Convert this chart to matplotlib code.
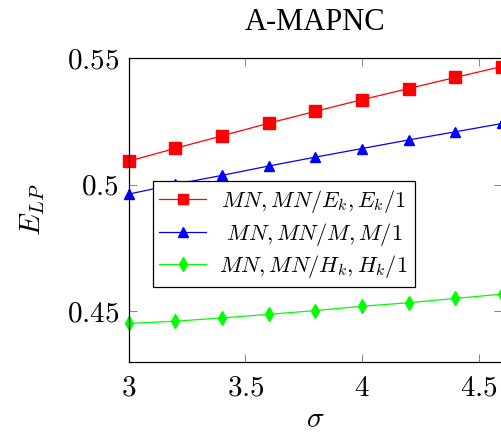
import numpy as np
import matplotlib
matplotlib.use('Agg')
import matplotlib.pyplot as plt
import matplotlib as mpl

mpl.rcParams['mathtext.fontset'] = 'cm'
mpl.rcParams['font.family'] = 'Liberation Serif'

sigma = [3.0, 3.2, 3.4, 3.6, 3.8, 4.0, 4.2, 4.4, 4.6]
e_k = [0.5093, 0.5144, 0.5193, 0.5243, 0.5290, 0.5336, 0.5380, 0.5424, 0.5467]
m_1 = [0.4963, 0.5002, 0.5037, 0.5074, 0.5109, 0.5143, 0.5177, 0.5209, 0.5242]
h_k = [0.4452, 0.4461, 0.4474, 0.4488, 0.4503, 0.4520, 0.4534, 0.4551, 0.4568]

labels = [r'$\hspace{0.12}MN, MN/E_k, E_k/1$',
          r'$\hspace{0.4}MN, MN/M, M/1$',
          r'$MN, MN/H_k, H_k/1$']
xticks = [3, 3.5, 4, 4.5]
yticks = [0.45, 0.5, 0.55]

fig = plt.figure(figsize=(5.01, 4.34), dpi=100)
ax = fig.add_axes([0.257, 0.166, 0.745, 0.700])

ax.plot(sigma, e_k, '-s', color='red', lw=0.9, ms=8, label=labels[0], clip_on=False)
ax.plot(sigma, m_1, '-^', color='blue', lw=0.9, ms=7.5, label=labels[1], clip_on=False)
ax.plot(sigma, h_k, '-d', color='#00ff00', lw=0.9, ms=7.5, label=labels[2], clip_on=False)

ax.set_xlim(3, 4.6)
ax.set_ylim(0.43, 0.55)
ax.set_xticks(xticks)
ax.set_yticks(yticks)
fmt = mpl.ticker.FuncFormatter(lambda v, p: '$%g$' % v)
ax.xaxis.set_major_formatter(fmt)
ax.yaxis.set_major_formatter(fmt)
ax.tick_params(direction='in', length=6, width=0.6, color='0.45',
               top=True, right=True, labelsize=21)
ax.tick_params(axis='x', pad=10)
ax.tick_params(axis='y', pad=7)
for s in ax.spines.values():
    s.set_linewidth(0.9)

ax.set_xlabel(r'$\sigma$', fontsize=21, labelpad=4)
ax.set_ylabel(r'$E_{LP}$', fontsize=21, labelpad=14)
ax.set_title('A-MAPNC', fontsize=22, pad=20)

leg = ax.legend(loc='upper left', bbox_to_anchor=(0.0645, 0.594), borderaxespad=0,
                fontsize=16, fancybox=False, edgecolor='black', framealpha=1,
                handlelength=2.1, handletextpad=0.6, labelspacing=0.25,
                borderpad=0.3, markerscale=0.9)
leg.get_frame().set_linewidth(0.9)

plt.savefig('out.png', dpi=100)
